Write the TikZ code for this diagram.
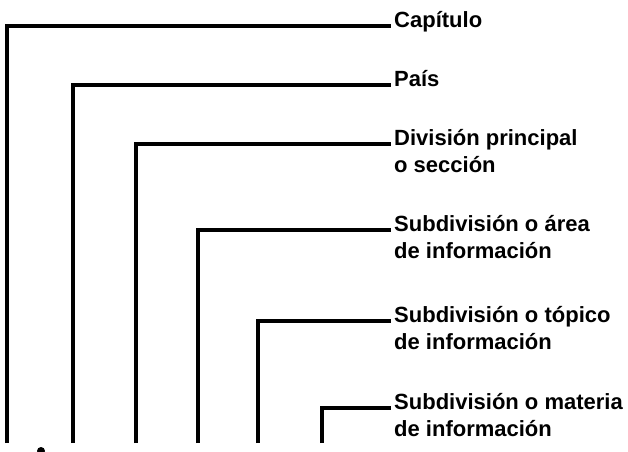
\documentclass[tikz,border=0pt]{standalone}
\usepackage{fontspec}
\setmainfont{Liberation Sans}
\newcommand{\twolines}[2]{\begin{tabular}[t]{@{}l@{}}#1\\#2\end{tabular}}
\begin{document}
\begin{tikzpicture}[x=1pt,y=-1pt,
  lbl/.style={anchor=base west,inner sep=0pt,font=\bfseries\fontsize{22}{27}\selectfont},
  bracket/.style={line width=3.6pt,line cap=butt,line join=miter}]
\useasboundingbox (0,0) rectangle (628,451);
\node[lbl] (l1) at (394,27) {Capítulo};
\node[lbl] (l2) at (394,86) {País};
\node[lbl] (l3) at (394,145) {\twolines{División principal}{o sección}};
\node[lbl] (l4) at (394,231) {\twolines{Subdivisión o área}{de información}};
\node[lbl] (l5) at (394,322) {\twolines{Subdivisión o tópico}{de información}};
\node[lbl] (l6) at (394,409) {\twolines{Subdivisión o materia}{de información}};
\coordinate (b1) at (7,443);
\coordinate (b2) at (73,443);
\coordinate (b3) at (136,443);
\coordinate (b4) at (198,443);
\coordinate (b5) at (258,443);
\coordinate (b6) at (322,443);
\draw[bracket] (b1) |- ([xshift=-3pt,yshift=1pt]l1.base west);
\draw[bracket] (b2) |- ([xshift=-3pt,yshift=1pt]l2.base west);
\draw[bracket] (b3) |- ([xshift=-3pt,yshift=1pt]l3.base west);
\draw[bracket] (b4) |- ([xshift=-3pt,yshift=1pt]l4.base west);
\draw[bracket] (b5) |- ([xshift=-3pt,yshift=1pt]l5.base west);
\draw[bracket] (b6) |- ([xshift=-3pt,yshift=1pt]l6.base west);
\fill (41,451) circle (4);
\end{tikzpicture}
\end{document}
